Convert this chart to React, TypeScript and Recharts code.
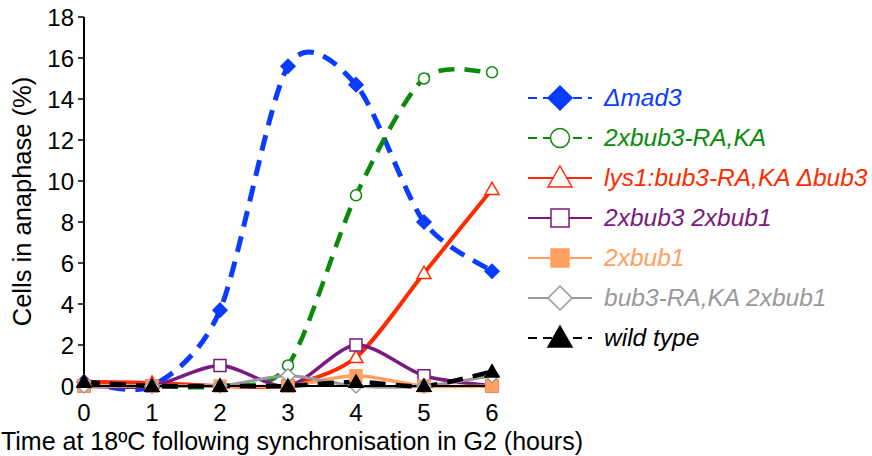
import React from 'react';
import { LineChart, Line, XAxis, YAxis, Legend } from 'recharts';

document.body.style.margin = '0';

const hours = [0, 1, 2, 3, 4, 5, 6];
const mad3 = [0.2, 0, 3.7, 15.6, 14.7, 8.0, 5.6];
const bub3RAKA2x = [0, 0, 0, 1.0, 9.3, 15.0, 15.3];
const lys1bub3 = [0.2, 0.15, 0, 0.05, 1.4, 5.5, 9.6];
const bub3bub1 = [0, 0, 1.0, 0, 2.0, 0.5, 0];
const bub1x2 = [0, 0, 0, 0, 0.5, 0, 0];
const bub3RAKAbub1 = [0, 0, 0, 0.5, 0, 0, 0.5];
const wildType = [0.2, 0, 0, 0, 0.2, 0, 0.7];
const yTicks = [0, 2, 4, 6, 8, 10, 12, 14, 16, 18];

const data = hours.map((h, i) => ({
  h,
  mad3: mad3[i],
  ra: bub3RAKA2x[i],
  lys: lys1bub3[i],
  bb: bub3bub1[i],
  b1: bub1x2[i],
  rab1: bub3RAKAbub1[i],
  wt: wildType[i],
}));

const FONT = 'Liberation Sans, Arial, Helvetica, sans-serif';

// Excel-style smoothed line (cardinal spline through the points)
const TENSION = 0.14;
const smooth = (context: any) => {
  let pts: number[][] = [];
  return {
    areaStart() {},
    areaEnd() {},
    lineStart() {
      pts = [];
    },
    point(x: number, y: number) {
      pts.push([+x, +y]);
    },
    lineEnd() {
      const n = pts.length;
      if (!n) return;
      context.moveTo(pts[0][0], pts[0][1]);
      for (let i = 0; i < n - 1; i++) {
        const p0 = pts[Math.max(i - 1, 0)];
        const p1 = pts[i];
        const p2 = pts[i + 1];
        const p3 = pts[Math.min(i + 2, n - 1)];
        context.bezierCurveTo(
          p1[0] + (p2[0] - p0[0]) * TENSION,
          p1[1] + (p2[1] - p0[1]) * TENSION,
          p2[0] - (p3[0] - p1[0]) * TENSION,
          p2[1] - (p3[1] - p1[1]) * TENSION,
          p2[0],
          p2[1]
        );
      }
    },
  };
};

type Shape = 'diamond' | 'circle' | 'triangle' | 'square';

const Marker = ({ shape, cx, cy, color, filled, s = 7 }: any) => {
  const fill = filled ? color : '#fff';
  const sw = 1.5;
  if (shape === 'diamond')
    return <polygon points={`${cx},${cy - s} ${cx + s},${cy} ${cx},${cy + s} ${cx - s},${cy}`} fill={fill} stroke={color} strokeWidth={sw} />;
  if (shape === 'circle') return <circle cx={cx} cy={cy} r={s - 1.5} fill={fill} stroke={color} strokeWidth={sw} />;
  if (shape === 'triangle')
    return <polygon points={`${cx},${cy - s} ${cx + s},${cy + s * 0.75} ${cx - s},${cy + s * 0.75}`} fill={fill} stroke={color} strokeWidth={sw} />;
  return <rect x={cx - s + 1} y={cy - s + 1} width={2 * s - 2} height={2 * s - 2} fill={fill} stroke={color} strokeWidth={sw} />;
};

const series: { key: string; name: string; color: string; shape: Shape; filled: boolean; dashed: boolean; width: number }[] = [
  { key: 'mad3', name: 'Δmad3', color: '#0a3cff', shape: 'diamond', filled: true, dashed: true, width: 5 },
  { key: 'ra', name: '2xbub3-RA,KA', color: '#0a8a0a', shape: 'circle', filled: false, dashed: true, width: 4.5 },
  { key: 'lys', name: 'lys1:bub3-RA,KA Δbub3', color: '#ff2a00', shape: 'triangle', filled: false, dashed: false, width: 4 },
  { key: 'bb', name: '2xbub3 2xbub1', color: '#7a1a80', shape: 'square', filled: false, dashed: false, width: 3.5 },
  { key: 'b1', name: '2xbub1', color: '#ffa060', shape: 'square', filled: true, dashed: false, width: 3.5 },
  { key: 'rab1', name: 'bub3-RA,KA 2xbub1', color: '#999999', shape: 'diamond', filled: false, dashed: false, width: 3 },
  { key: 'wt', name: 'wild type', color: '#000000', shape: 'triangle', filled: true, dashed: true, width: 4.5 },
];

const LegendBox = () => (
  <div style={{ fontFamily: FONT, fontSize: 24.5, fontStyle: 'italic' }}>
    {series.map((s) => (
      <div key={s.key} style={{ display: 'flex', alignItems: 'center', height: 40 }}>
        <svg width={66} height={30} style={{ marginRight: 11 }}>
          <line x1={1} y1={15} x2={65} y2={15} stroke={s.color} strokeWidth={2} strokeDasharray={s.dashed ? '9 6' : undefined} />
          <Marker shape={s.shape} cx={33} cy={15} color={s.color} filled={s.filled} s={s.shape === 'circle' ? 11 : s.shape === 'square' ? 10 : 12} />
        </svg>
        <span style={{ color: s.color, whiteSpace: 'nowrap' }}>{s.name}</span>
      </div>
    ))}
  </div>
);

export default function App() {
  return (
    <LineChart width={872} height={456} data={data} margin={{ top: 17, right: 380, left: 44, bottom: 0 }}>
      <XAxis
        dataKey="h"
        type="number"
        domain={[0, 6]}
        ticks={hours}
        height={70}
        tickLine={false}
        axisLine={{ stroke: '#000', strokeWidth: 2 }}
        tick={{ fontSize: 24, fill: '#000', fontFamily: FONT }}
        tickMargin={12}
        label={{
          value: 'Time at 18ºC following synchronisation in G2 (hours)',
          position: 'insideBottom',
          offset: 6,
          dx: 4,
          style: { fontSize: 25, fill: '#000', fontFamily: FONT },
        }}
      />
      <YAxis
        type="number"
        domain={[0, 18]}
        ticks={yTicks}
        width={40}
        interval={0}
        tickSize={6}
        tickMargin={4}
        axisLine={{ stroke: '#000', strokeWidth: 2 }}
        tickLine={{ stroke: '#000', strokeWidth: 1.5 }}
        tick={{ fontSize: 24, fill: '#000', fontFamily: FONT }}
        label={{
          value: 'Cells in anaphase (%)',
          angle: -90,
          position: 'insideLeft',
          offset: 0,
          dx: -22,
          style: { textAnchor: 'middle', fontSize: 25.5, fill: '#000', fontFamily: FONT },
        }}
      />
      <Legend
        layout="horizontal"
        align="center"
        verticalAlign="middle"
        content={() => <LegendBox />}
        wrapperStyle={{ left: 527, top: 78, width: 345, right: 'auto', bottom: 'auto' }}
      />
      {series.map((s) => (
        <Line
          key={s.key}
          dataKey={s.key}
          name={s.name}
          type={smooth as any}
          stroke={s.color}
          strokeWidth={s.width}
          strokeDasharray={s.dashed ? '16 10' : undefined}
          isAnimationActive={false}
          dot={(p: any) => <Marker key={`${s.key}-${p.index}`} shape={s.shape} cx={p.cx} cy={p.cy} color={s.color} filled={s.filled} s={s.shape === 'circle' ? 7 : 7} />}
          activeDot={false}
        />
      ))}
    </LineChart>
  );
}
